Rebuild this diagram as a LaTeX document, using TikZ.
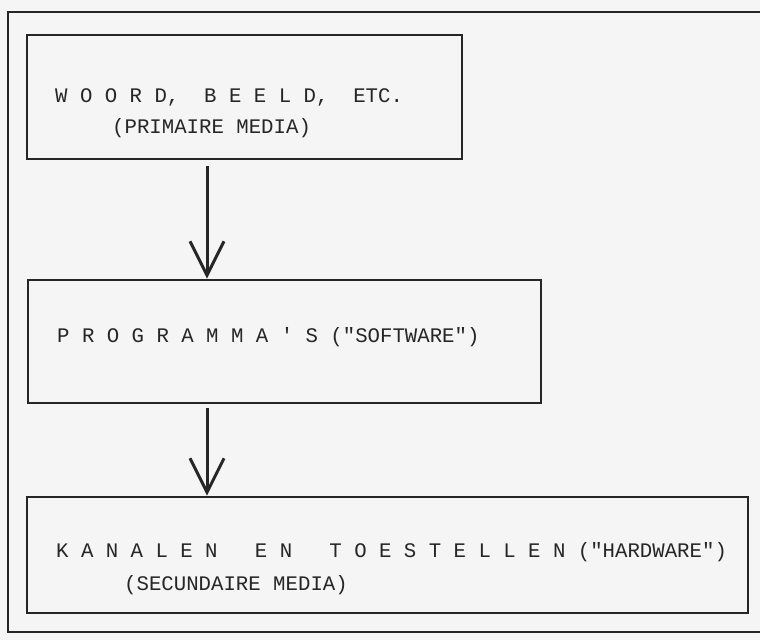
\documentclass[tikz,border=0pt]{standalone}
\usepackage{fontspec}
\setmonofont{Liberation Mono}
\usetikzlibrary{arrows.meta}
\begin{document}
\begin{tikzpicture}[x=1bp,y=-1bp,
  ink/.style={draw=black!85},
  boxnode/.style={ink, line width=2.6bp, minimum width=#1, inner sep=0pt},
  txt/.style={anchor=base west, inner sep=0pt, text=black!85,
    font=\ttfamily\fontsize{20.7bp}{24bp}\selectfont},
  flow/.style={ink, line width=3bp, -{Straight Barb[length=34bp,width=34bp,line width=3bp]}},
]
\fill[black!4] (0,0) rectangle (760,640);
\useasboundingbox (0,0) rectangle (760,640);
% outer frame
\draw[ink, line width=2bp] (760,12) -- (8,12) -- (8,632) -- (760,632);
% boxes
\node[boxnode=435bp, minimum height=124bp] (b1) at (244.5,97) {};
\node[boxnode=513bp, minimum height=123bp] (b2) at (284.5,341.5) {};
\node[boxnode=721bp, minimum height=116bp] (b3) at (387.5,555) {};
% texts
\node[txt] (t1a) at (55,103) {W~O~O~R~D,~~B~E~E~L~D,~~ETC.};
\node[txt] (t1b) at (112,134) {(PRIMAIRE~MEDIA)};
\node[txt] (t2) at (57,342) {P~R~O~G~R~A~M~M~A~'~S~("SOFTWARE")};
\node[txt] (t3a) at (56,557) {K~A~N~A~L~E~N~~~E~N~~~T~O~E~S~T~E~L~L~E~N~("HARDWARE")};
\node[txt] (t3b) at (124,590) {(SECUNDAIRE~MEDIA)};
% arrows
\coordinate (a1s) at (207,166);
\coordinate (a2s) at (207,408);
\draw[flow] (a1s) -- (a1s |- b2.north);
\draw[flow] (a2s) -- (a2s |- b3.north);
\end{tikzpicture}
\end{document}
